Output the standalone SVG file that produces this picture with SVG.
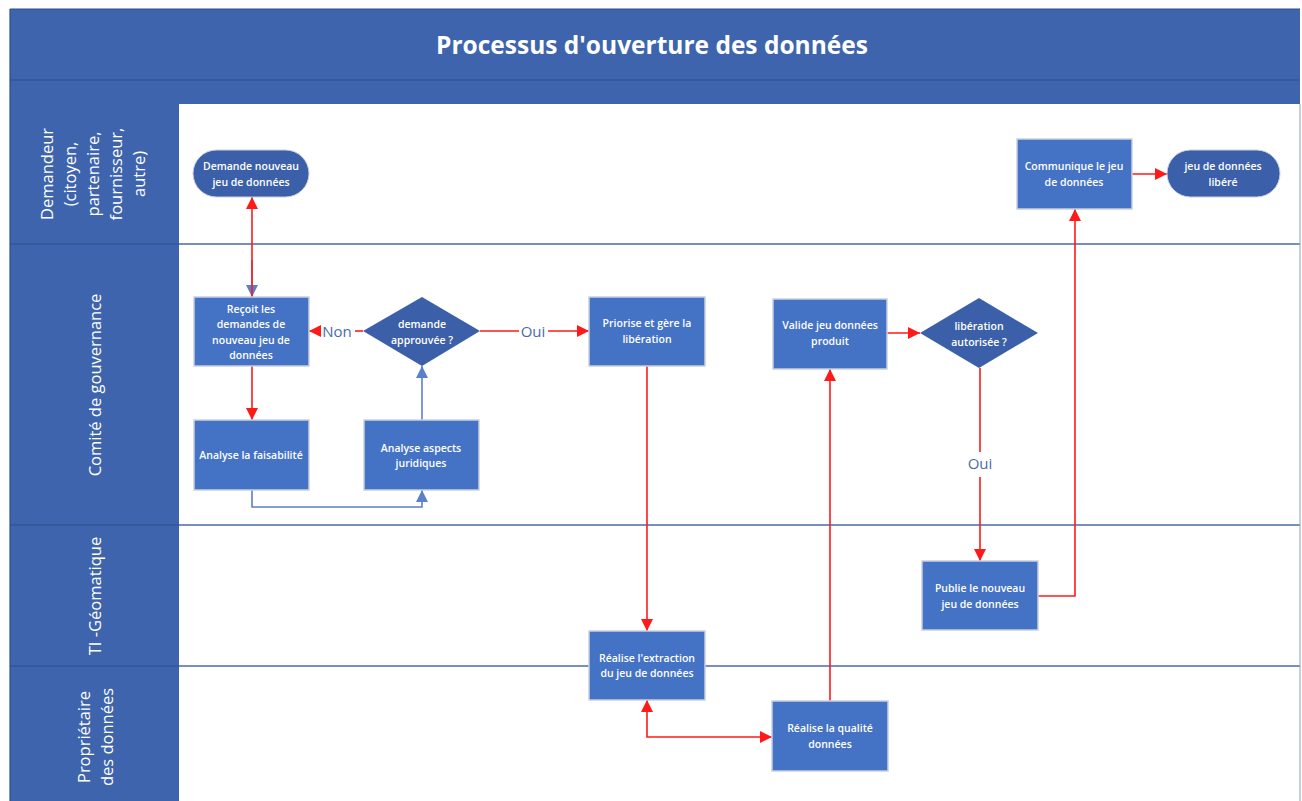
<svg xmlns="http://www.w3.org/2000/svg" width="1302" height="801" viewBox="0 0 1302 801">
<defs>
<style>
.band{fill:#3d64ad}
.sep{stroke:#2f4f8c;stroke-width:1.2}
.lane{stroke:#4a69a8;stroke-width:1.3}
.title{font-family:"Open Sans","Noto Sans",sans-serif;font-weight:700;font-size:24.5px;fill:#fff}
.lbl{font-family:"Open Sans","Noto Sans",sans-serif;font-size:16.5px;fill:#fff}
.box{fill:#4472c4;stroke:#c9d0de;stroke-width:1.5}
.term{fill:#3b5fa8;stroke:#c9d0de;stroke-width:1}
.dia{fill:#3b5fa8}
.t{font-family:"Open Sans","Noto Sans",sans-serif;font-weight:600;font-size:10.5px;fill:#fff;text-anchor:middle}
.red{stroke:#ff1a1a;stroke-width:1.6;fill:none}
.blue{stroke:#5b7fc8;stroke-width:1.6;fill:none}
.cl{font-family:"Open Sans","Noto Sans",sans-serif;font-size:15px;fill:#4a6aaa;text-anchor:middle}
</style>
<marker id="ar" viewBox="0 0 10 10" refX="10" refY="5" markerWidth="12" markerHeight="12" markerUnits="userSpaceOnUse" orient="auto-start-reverse"><path d="M0,0L10,5L0,10z" fill="#ff1a1a"/></marker>
<marker id="ab" viewBox="0 0 10 10" refX="10" refY="5" markerWidth="12" markerHeight="12" markerUnits="userSpaceOnUse" orient="auto-start-reverse"><path d="M0,0L10,5L0,10z" fill="#5b7fc8"/></marker>
</defs>
<rect width="1302" height="801" fill="#fff"/>
<g id="frame">
<rect class="band" x="10" y="9" width="1290" height="95"/>
<rect class="band" x="10" y="104" width="169" height="697"/>
<line class="sep" x1="10" y1="80" x2="1300" y2="80"/>
<line class="sep" x1="10" y1="9" x2="1300" y2="9"/>
<line class="sep" x1="10" y1="9" x2="10" y2="801"/>
<line class="sep" x1="10" y1="244" x2="179" y2="244"/>
<line class="sep" x1="10" y1="525" x2="179" y2="525"/>
<line class="sep" x1="10" y1="666" x2="179" y2="666"/>
<line class="lane" x1="179" y1="244" x2="1300" y2="244"/>
<line class="lane" x1="179" y1="525" x2="1300" y2="525"/>
<line class="lane" x1="179" y1="666" x2="1300" y2="666"/>
<line x1="1300" y1="104" x2="1300" y2="801" stroke="#8aa0cc" stroke-width="1"/>
<text class="title" x="652" y="54" text-anchor="middle">Processus d'ouverture des données</text>
</g>
<g id="lane-labels">
<text class="lbl" text-anchor="middle" transform="translate(95,174) rotate(-90)"><tspan x="0" y="-42">Demandeur</tspan><tspan x="0" y="-19">(citoyen,</tspan><tspan x="0" y="4">partenaire,</tspan><tspan x="0" y="27">fournisseur,</tspan><tspan x="0" y="50">autre)</tspan></text>
<text class="lbl" text-anchor="middle" transform="translate(101,385) rotate(-90)">Comité de gouvernance</text>
<text class="lbl" text-anchor="middle" transform="translate(101,596) rotate(-90)">TI -Géomatique</text>
<text class="lbl" text-anchor="middle" transform="translate(95,737) rotate(-90)"><tspan x="0" y="-5">Propriétaire</tspan><tspan x="0" y="18">des données</tspan></text>
</g>
<g id="connectors">
<line class="blue" x1="252" y1="260" x2="252" y2="297" marker-end="url(#ab)"/>
<line class="red" x1="252" y1="297" x2="252" y2="197" marker-end="url(#ar)"/>
<line class="red" x1="252" y1="366" x2="252" y2="420" marker-end="url(#ar)"/>
<polyline class="blue" points="252,490 252,507 422,507 422,490" marker-end="url(#ab)"/>
<line class="blue" x1="422" y1="420" x2="422" y2="366" marker-end="url(#ab)"/>
<line class="red" x1="363" y1="331" x2="355" y2="331"/>
<line class="red" x1="320" y1="331" x2="309" y2="331" marker-end="url(#ar)"/>
<text class="cl" x="337" y="337">Non</text>
<line class="red" x1="480" y1="331" x2="519" y2="331"/>
<line class="red" x1="548" y1="331" x2="589" y2="331" marker-end="url(#ar)"/>
<text class="cl" x="533" y="337">Oui</text>
<line class="red" x1="647" y1="366" x2="647" y2="631" marker-end="url(#ar)"/>
<polyline class="red" points="647,700 647,737 772,737" marker-start="url(#ar)" marker-end="url(#ar)"/>
<line class="red" x1="830" y1="701" x2="830" y2="369" marker-end="url(#ar)"/>
<line class="red" x1="887" y1="333" x2="920" y2="333" marker-end="url(#ar)"/>
<line class="red" x1="980" y1="368" x2="980" y2="452"/>
<line class="red" x1="980" y1="477" x2="980" y2="561" marker-end="url(#ar)"/>
<text class="cl" x="980" y="469">Oui</text>
<polyline class="red" points="1038,596 1075,596 1075,209" marker-end="url(#ar)"/>
<line class="red" x1="1132" y1="174" x2="1167" y2="174" marker-end="url(#ar)"/>
</g>
<g id="n-demande"><rect class="term" x="193" y="150" width="116" height="47" rx="23.5"/><text class="t"><tspan x="251" y="170">Demande nouveau</tspan><tspan x="251" y="186">jeu de données</tspan></text></g>
<g id="n-recoit"><rect class="box" x="194" y="297" width="115" height="69"/><text class="t"><tspan x="251" y="313">Reçoit les</tspan><tspan x="251" y="328">demandes de</tspan><tspan x="251" y="344">nouveau jeu de</tspan><tspan x="251" y="359">données</tspan></text></g>
<g id="n-approuvee"><polygon class="dia" points="422,297 480,331 422,366 363,331"/><text class="t"><tspan x="422" y="328">demande</tspan><tspan x="422" y="344">approuvée ?</tspan></text></g>
<g id="n-faisabilite"><rect class="box" x="194" y="420" width="115" height="70"/><text class="t" x="251" y="459">Analyse la faisabilité</text></g>
<g id="n-juridiques"><rect class="box" x="364" y="420" width="115" height="70"/><text class="t"><tspan x="421" y="452">Analyse aspects</tspan><tspan x="421" y="467">juridiques</tspan></text></g>
<g id="n-priorise"><rect class="box" x="589" y="297" width="116" height="69"/><text class="t"><tspan x="647" y="327">Priorise et gère la</tspan><tspan x="647" y="343">libération</tspan></text></g>
<g id="n-valide"><rect class="box" x="773" y="299" width="114" height="70"/><text class="t"><tspan x="830" y="329">Valide jeu données</tspan><tspan x="830" y="345">produit</tspan></text></g>
<g id="n-autorisee"><polygon class="dia" points="979,298 1038,333 979,368 920,333"/><text class="t"><tspan x="979" y="330">libération</tspan><tspan x="979" y="346">autorisée ?</tspan></text></g>
<g id="n-communique"><rect class="box" x="1017" y="139" width="115" height="70"/><text class="t"><tspan x="1074" y="170">Communique le jeu</tspan><tspan x="1074" y="186">de données</tspan></text></g>
<g id="n-libere"><rect class="term" x="1167" y="150" width="113" height="47" rx="23.5"/><text class="t"><tspan x="1223" y="170">jeu de données</tspan><tspan x="1223" y="186">libéré</tspan></text></g>
<g id="n-publie"><rect class="box" x="922" y="561" width="116" height="69"/><text class="t"><tspan x="980" y="592">Publie le nouveau</tspan><tspan x="980" y="608">jeu de données</tspan></text></g>
<g id="n-extraction"><rect class="box" x="589" y="631" width="116" height="69"/><text class="t"><tspan x="647" y="662">Réalise l'extraction</tspan><tspan x="647" y="677">du jeu de données</tspan></text></g>
<g id="n-qualite"><rect class="box" x="772" y="701" width="116" height="70"/><text class="t"><tspan x="830" y="732">Réalise la qualité</tspan><tspan x="830" y="748">données</tspan></text></g>
</svg>
